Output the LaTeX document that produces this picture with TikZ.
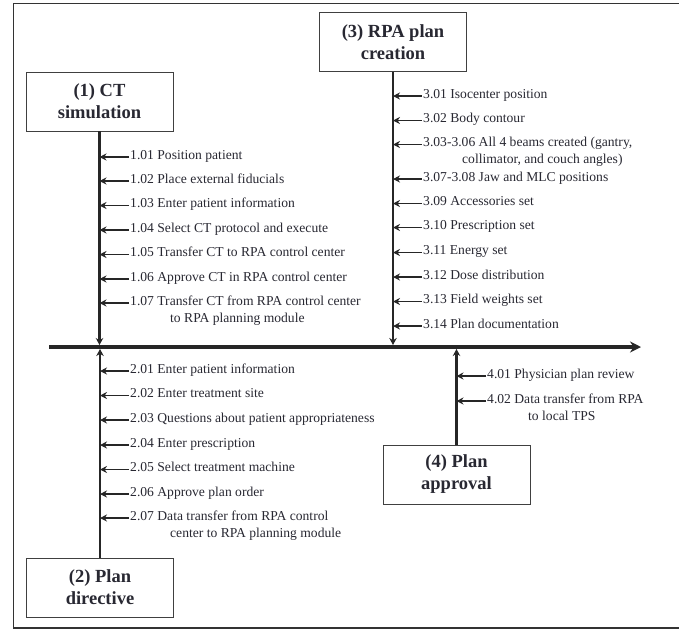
\documentclass[tikz,border=0pt]{standalone}
\usepackage{fontspec}
\setmainfont{Liberation Serif}
\usepackage{tikz}
\usetikzlibrary{positioning, arrows.meta, calc}
\definecolor{ink}{RGB}{40, 40, 50}

\begin{document}
\begin{tikzpicture}[x=1pt, y=-1pt, >=Stealth,
      phase/.style={draw=black!75, line width=0.9pt, fill=white, align=center, inner sep=0pt,
        minimum width=147pt, minimum height=59pt, text=ink,
        font=\bfseries\fontsize{18.5}{22}\selectfont},
      task/.style={anchor=mid west, inner xsep=1pt, inner ysep=0pt, text=ink,
        font=\fontsize{13.6}{17}\selectfont},
      feed/.style={-{Stealth[length=7pt, width=7pt]}, line width=1.1pt, black!85},
      spine/.style={-{Stealth[length=7pt, width=7.5pt]}, line width=2.6pt, black!85, shorten >=2pt},
      timeline/.style={-{Stealth[length=11pt, width=11pt]}, line width=4.5pt, black!85}]
    \useasboundingbox (0,0) rectangle (679,630);
    \draw[line width=1.6pt, black!80] (690,3.5) -- (13.5,3.5) -- (13.5,628) -- (690,628);

    % phases
    \node[phase] (ct)  at (99.5,101.5) {(1) CT\\ simulation};
    \node[phase] (pd)  at (100,587.5)  {(2) Plan\\ directive};
    \node[phase] (rpa) at (393,42)     {(3) RPA plan\\ creation};
    \node[phase] (pa)  at (456.5,474.5){(4) Plan\\ approval};

    % time line
    \coordinate (axL) at (49,347);
    \coordinate (axR) at (641,347);
    \draw[timeline] (axL) -- (axR);
    \draw[spine] (ct.south)  -- (ct.south |- axL);
    \draw[spine] (rpa.south) -- (rpa.south |- axL);
    \draw[spine] (pd.north)  -- (pd.north |- axL);
    \draw[spine] (pa.north)  -- (pa.north |- axL);

    % (1) CT simulation
    \node[task] (t101) at (129,157) {1.01 Position patient};
    \node[task] (t102) at (129,181) {1.02 Place external fiducials};
    \node[task] (t103) at (129,205.5) {1.03 Enter patient information};
    \node[task] (t104) at (129,230) {1.04 Select CT protocol and execute};
    \node[task] (t105) at (129,254.5) {1.05 Transfer CT to RPA control center};
    \node[task] (t106) at (129,279) {1.06 Approve CT in RPA control center};
    \node[task] (t107) at (129,303) {1.07 Transfer CT from RPA control center};
    \node[task] (t107b) at ($(t107.mid west)+(40,17)$) {to RPA planning module};
    \foreach \t in {t101,t102,t103,t104,t105,t106,t107}
      \draw[feed] (\t.mid west) -- (\t.mid west -| ct.south);

    % (2) Plan directive
    \node[task] (t201) at (129,371) {2.01 Enter patient information};
    \node[task] (t202) at (129,395.5) {2.02 Enter treatment site};
    \node[task] (t203) at (129,420) {2.03 Questions about patient appropriateness};
    \node[task] (t204) at (129,445) {2.04 Enter prescription};
    \node[task] (t205) at (129,469.5) {2.05 Select treatment machine};
    \node[task] (t206) at (129,494) {2.06 Approve plan order};
    \node[task] (t207) at (129,518) {2.07 Data transfer from RPA control};
    \node[task] (t207b) at ($(t207.mid west)+(40,17)$) {center to RPA planning module};
    \foreach \t in {t201,t202,t203,t204,t205,t206,t207}
      \draw[feed] (\t.mid west) -- (\t.mid west -| pd.north);

    % (3) RPA plan creation
    \node[task] (t301) at (422,96)  {3.01 Isocenter position};
    \node[task] (t302) at (422,120.5) {3.02 Body contour};
    \node[task] (t303) at (422,144.5) {3.03-3.06 All 4 beams created (gantry,};
    \node[task] (t303b) at ($(t303.mid west)+(39,17)$) {collimator, and couch angles)};
    \node[task] (t307) at (422,179) {3.07-3.08 Jaw and MLC positions};
    \node[task] (t309) at (422,203.5) {3.09 Accessories set};
    \node[task] (t310) at (422,227.5) {3.10 Prescription set};
    \node[task] (t311) at (422,252.5) {3.11 Energy set};
    \node[task] (t312) at (422,277) {3.12 Dose distribution};
    \node[task] (t313) at (422,301.5) {3.13 Field weights set};
    \node[task] (t314) at (422,326) {3.14 Plan documentation};
    \foreach \t in {t301,t302,t303,t307,t309,t310,t311,t312,t313,t314}
      \draw[feed] (\t.mid west) -- (\t.mid west -| rpa.south);

    % (4) Plan approval
    \node[task] (t401) at (486,376) {4.01 Physician plan review};
    \node[task] (t402) at (486,401) {4.02 Data transfer from RPA};
    \node[task] (t402b) at ($(t402.mid west)+(41,17)$) {to local TPS};
    \foreach \t in {t401,t402}
      \draw[feed] (\t.mid west) -- (\t.mid west -| pa.north);
  \end{tikzpicture}
\end{document}
